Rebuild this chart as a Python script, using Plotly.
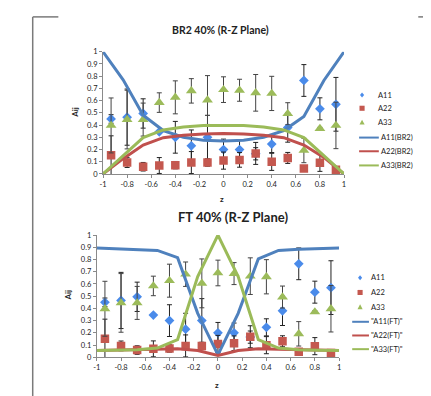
import plotly.graph_objects as go

# ---- data ----
z_points = [-0.933, -0.8, -0.667, -0.533, -0.4, -0.267, -0.133, 0.0,
            0.133, 0.267, 0.4, 0.533, 0.667, 0.8, 0.933]
a11 = [0.45, 0.465, 0.495, 0.345, 0.30, 0.23, 0.30, 0.20, 0.20, 0.165, 0.245, 0.38, 0.765, 0.533, 0.57]
a11_err = [0.035, 0.23, 0.12, 0.0, 0.13, 0.13, 0.18, 0.085, 0.08, 0.05, 0.07, 0.12, 0.13, 0.09, 0.22]
a22 = [0.152, 0.093, 0.059, 0.069, 0.072, 0.093, 0.093, 0.109, 0.115, 0.168, 0.099, 0.131, 0.045, 0.091, 0.035]
a22_err = [0.16, 0.04, 0.035, 0.065, 0.03, 0.09, 0.03, 0.07, 0.06, 0.09, 0.07, 0.045, 0.01, 0.07, 0.01]
a33 = [0.397, 0.445, 0.445, 0.584, 0.627, 0.68, 0.605, 0.69, 0.685, 0.664, 0.659, 0.493, 0.192, 0.371, 0.397]
a33_err = [0.225, 0.24, 0.135, 0.08, 0.135, 0.1, 0.2, 0.105, 0.09, 0.15, 0.14, 0.09, 0.1, 0.01, 0.19]

z_line = [-1.0, -0.833, -0.667, -0.5, -0.333, -0.167, 0.0, 0.167, 0.333, 0.5, 0.667, 0.833, 1.0]
a11_br2 = [1.0, 0.77, 0.48, 0.355, 0.30, 0.275, 0.27, 0.275, 0.30, 0.355, 0.47, 0.765, 1.0]
a22_br2 = [0.0, 0.125, 0.237, 0.297, 0.317, 0.327, 0.33, 0.327, 0.317, 0.297, 0.237, 0.135, 0.0]
a33_br2 = [0.0, 0.152, 0.298, 0.36, 0.385, 0.397, 0.40, 0.397, 0.385, 0.36, 0.298, 0.152, 0.0]

a11_ft = [0.895, 0.89, 0.885, 0.875, 0.815, 0.36, 0.02, 0.36, 0.805, 0.875, 0.885, 0.89, 0.895]
a22_ft = [0.055, 0.058, 0.06, 0.065, 0.07, 0.055, 0.015, 0.055, 0.07, 0.065, 0.06, 0.058, 0.055]
a33_ft = [0.055, 0.058, 0.062, 0.075, 0.145, 0.66, 1.0, 0.66, 0.145, 0.075, 0.062, 0.058, 0.055]

x_ticks = [-1, -0.8, -0.6, -0.4, -0.2, 0, 0.2, 0.4, 0.6, 0.8, 1]
x_tick_text = ["-1", "-0.8", "-0.6", "-0.4", "-0.2", "0", "0.2", "0.4", "0.6", "0.8", "1"]
y_ticks = [0, 0.1, 0.2, 0.3, 0.4, 0.5, 0.6, 0.7, 0.8, 0.9, 1]
y_tick_text = ["0", "0.1", "0.2", "0.3", "0.4", "0.5", "0.6", "0.7", "0.8", "0.9", "1"]

titles = ["BR2 40% (R-Z Plane)", "FT 40% (R-Z Plane)"]
point_names = ["A11", "A22", "A33"]
line_names_top = ["A11(BR2)", "A22(BR2)", "A33(BR2)"]
line_names_bot = ['"A11(FT)"', '"A22(FT)"', '"A33(FT)"']

# ---- style ----
FONT = "Lato"
C_PT = ["#4A8BEA", "#C4584F", "#9CBB5A"]
C_LN = ["#4F81BD", "#C0504D", "#9BBB59"]
SYMS = ["diamond", "square", "triangle-up"]
SIZES = [7.5, 8.5, 9.5]
W, H = 431, 396

def px(v):
    return v / W

def py(v):
    return 1 - v / H

fig = go.Figure()

def add_panel(xa, ya, line_vals, line_names):
    pts = [(a11, a11_err), (a22, a22_err), (a33, a33_err)]
    for i, (vals, err) in enumerate(pts):
        fig.add_trace(go.Scatter(
            x=z_points, y=vals, mode="markers", name=point_names[i], showlegend=False,
            marker=dict(symbol=SYMS[i], size=SIZES[i], color=C_PT[i], line=dict(width=0)),
            error_y=dict(type="data", array=err, visible=True,
                         color="#222222" if i != 2 else "#444444", thickness=1, width=2.5),
            xaxis=xa, yaxis=ya))
    for i, vals in enumerate(line_vals):
        fig.add_trace(go.Scatter(
            x=z_line, y=vals, mode="lines", name=line_names[i], showlegend=False,
            line=dict(color=C_LN[i], width=3), xaxis=xa, yaxis=ya))

add_panel("x", "y", [a11_br2, a22_br2, a33_br2], line_names_top)
add_panel("x2", "y2", [a11_ft, a22_ft, a33_ft], line_names_bot)

axis_common = dict(showgrid=False, zeroline=False, showline=True, linecolor="#8a8a8a", linewidth=1,
                   ticks="outside", ticklen=3, tickcolor="#8a8a8a",
                   tickfont=dict(family=FONT, size=7.5, color="#222222"))

fig.update_layout(
    width=W, height=H, margin=dict(l=0, r=0, t=0, b=0),
    paper_bgcolor="white", plot_bgcolor="white",
    font=dict(family=FONT, color="#222222"),
    showlegend=False,
    xaxis=dict(domain=[px(92.3), px(336.7)], range=[-1, 1], anchor="y",
               tickvals=x_ticks, ticktext=x_tick_text, **axis_common),
    yaxis=dict(domain=[py(165.7), py(40.7)], range=[0, 1], anchor="x",
               tickvals=y_ticks, ticktext=y_tick_text, **axis_common),
    xaxis2=dict(domain=[px(86), px(331.7)], range=[-1, 1], anchor="y2",
                tickvals=x_ticks, ticktext=x_tick_text, **axis_common),
    yaxis2=dict(domain=[py(353.3), py(228.3)], range=[0, 1], anchor="x2",
                tickvals=y_ticks, ticktext=y_tick_text, **axis_common),
)

ann = [
    dict(text="<b>" + titles[0] + "</b>", x=px(211), y=py(18), font=dict(size=10.5)),
    dict(text="<b>" + titles[1] + "</b>", x=px(224), y=py(210), font=dict(size=13)),
    dict(text="<b>z</b>", x=px(213), y=py(191), font=dict(size=8)),
    dict(text="<b>z</b>", x=px(208), y=py(382), font=dict(size=8)),
    dict(text="<b>Aij</b>", x=px(64), y=py(103), font=dict(size=8), textangle=-90),
    dict(text="<b>Aij</b>", x=px(57), y=py(290), font=dict(size=8), textangle=-90),
]
for a in ann:
    a.update(xref="paper", yref="paper", showarrow=False, xanchor="center", yanchor="middle")
    a["font"].update(family=FONT, color="#222222")
    fig.add_annotation(**a)

# ---- hand-built legends (compact, like the original) ----
def marker_path(sym, cx, cy, r):
    if sym == "diamond":
        pts = [(cx, cy - r), (cx + r * 0.8, cy), (cx, cy + r), (cx - r * 0.8, cy)]
    elif sym == "square":
        pts = [(cx - r, cy - r), (cx + r, cy - r), (cx + r, cy + r), (cx - r, cy + r)]
    else:
        pts = [(cx, cy - r * 1.1), (cx + r, cy + r * 0.8), (cx - r, cy + r * 0.8)]
    return "M " + " L ".join(f"{px(x):.5f},{py(y):.5f}" for x, y in pts) + " Z"

def add_legend(mx, mtext_x, lx0, lx1, ltext_x, rows, line_names):
    for i in range(3):
        y = rows[i]
        fig.add_shape(type="path", xref="paper", yref="paper",
                      path=marker_path(SYMS[i], mx, y, 2.6), fillcolor=C_PT[i], line=dict(width=0))
        fig.add_annotation(text=point_names[i], x=px(mtext_x), y=py(y), xref="paper", yref="paper",
                           showarrow=False, xanchor="left", yanchor="middle",
                           font=dict(family=FONT, size=7.5, color="#222222"))
    for i in range(3):
        y = rows[3 + i]
        fig.add_shape(type="line", xref="paper", yref="paper", x0=px(lx0), x1=px(lx1),
                      y0=py(y), y1=py(y), line=dict(color=C_LN[i], width=2))
        fig.add_annotation(text=line_names[i], x=px(ltext_x), y=py(y), xref="paper", yref="paper",
                           showarrow=False, xanchor="left", yanchor="middle",
                           font=dict(family=FONT, size=7.5, color="#222222"))

add_legend(355, 369, 352, 372, 372.5, [85, 98.5, 113, 128.5, 142.5, 157], line_names_top)
add_legend(353, 362, 345, 362, 362, [272, 287, 302, 317, 331, 345], line_names_bot)

# page frame
frame = [(21, 5, 21, 396), (21, 5, 47, 5), (412, 5, 429, 5), (429, 5, 429, 396)]
for x0, y0, x1, y1 in frame:
    fig.add_shape(type="line", xref="paper", yref="paper", x0=px(x0), y0=py(y0), x1=px(x1), y1=py(y1),
                  line=dict(color="#7a7a7a", width=1.5))

fig.write_html("out.html")
